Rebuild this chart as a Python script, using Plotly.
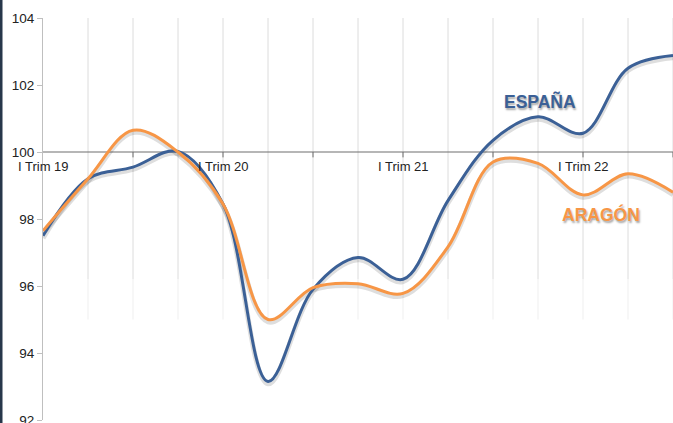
import plotly.graph_objects as go

categories = ["I Trim 19", "II Trim 19", "III Trim 19", "IV Trim 19",
              "I Trim 20", "II Trim 20", "III Trim 20", "IV Trim 20",
              "I Trim 21", "II Trim 21", "III Trim 21", "IV Trim 21",
              "I Trim 22", "II Trim 22", "III Trim 22"]
espana = [97.5, 99.2, 99.55, 100.02, 98.45, 93.15, 95.9, 96.85, 96.2, 98.55, 100.35, 101.05, 100.56, 102.5, 102.88]
aragon = [97.65, 99.2, 100.65, 100.0, 98.45, 95.0, 95.95, 96.07, 95.78, 97.17, 99.7, 99.66, 98.72, 99.35, 98.8]
tick_label_idx = [0, 4, 8, 12]
y_ticks = [92, 94, 96, 98, 100, 102, 104]

BLUE = "#3B6096"
ORANGE = "#F79646"
FONT = "Liberation Sans, Arial, sans-serif"

fig = go.Figure()

shapes = []
n = len(categories)
for i in range(1, n):
    shapes.append(dict(type="line", xref="x", yref="y", x0=i, x1=i, y0=96.2, y1=104,
                       line=dict(color="#dcdcdc", width=1), layer="below"))
    shapes.append(dict(type="line", xref="x", yref="y", x0=i, x1=i, y0=95.0, y1=96.2,
                       line=dict(color="#efefef", width=1), layer="below"))
shapes.append(dict(type="line", xref="x", yref="y", x0=0, x1=n - 1, y0=100, y1=100,
                   line=dict(color="#6f6f6f", width=1.2), layer="below"))
for i in range(2, n, 2):
    shapes.append(dict(type="line", xref="x", yref="y", x0=i, x1=i, y0=100, y1=99.84,
                       line=dict(color="#6f6f6f", width=1), layer="below"))
shapes.append(dict(type="rect", xref="paper", yref="paper",
                   x0=-43 / 630, x1=-40.5 / 630, y0=-3 / 402, y1=1 + 18 / 402,
                   fillcolor="#27374a", line=dict(width=0)))

for vals in (aragon, espana):
    fig.add_trace(go.Scatter(x=categories, y=[v - 0.07 for v in vals], mode="lines",
                             line=dict(color="rgba(0,0,0,0.13)", width=5, shape="spline", smoothing=1.0),
                             hoverinfo="skip", showlegend=False))

fig.add_trace(go.Scatter(x=categories, y=espana, mode="lines", name="ESPAÑA",
                         line=dict(color=BLUE, width=3, shape="spline", smoothing=1.0)))
fig.add_trace(go.Scatter(x=categories, y=aragon, mode="lines", name="ARAGÓN",
                         line=dict(color=ORANGE, width=3, shape="spline", smoothing=1.0)))

annotations = []
for i in tick_label_idx:
    annotations.append(dict(x=i, y=100, xref="x", yref="y", text=categories[i], showarrow=False,
                            yanchor="top", yshift=-5, font=dict(size=13, color="#222222", family=FONT)))
annotations.append(dict(x=11.04, y=101.52, xref="x", yref="y", text="<b>ESPAÑA</b>", showarrow=False,
                        font=dict(size=17.5, color=BLUE, family=FONT,
                                  shadow="1px 2px 2px rgba(0,0,0,0.35)")))
annotations.append(dict(x=12.4, y=98.12, xref="x", yref="y", text="<b>ARAGÓN</b>", showarrow=False,
                        font=dict(size=17.5, color=ORANGE, family=FONT,
                                  shadow="1px 2px 2px rgba(0,0,0,0.35)")))

fig.update_layout(
    width=673, height=423,
    margin=dict(l=43, r=0, t=18, b=3, autoexpand=False),
    paper_bgcolor="white", plot_bgcolor="white",
    showlegend=False,
    shapes=shapes, annotations=annotations,
    xaxis=dict(type="category", range=[0, n - 1], visible=False, automargin=False),
    yaxis=dict(range=[92, 104], tickvals=y_ticks, showgrid=False, zeroline=False,
               automargin=False, ticklabeloverflow="allow",
               showline=True, linecolor="#bfbfbf", linewidth=1,
               ticks="outside", ticklen=5, tickcolor="#bfbfbf",
               tickfont=dict(size=13.5, color="#222222", family=FONT)),
)

fig.write_html("out.html", config={"displayModeBar": False},
               post_script="document.body.style.margin='0';document.body.style.overflow='hidden';")
